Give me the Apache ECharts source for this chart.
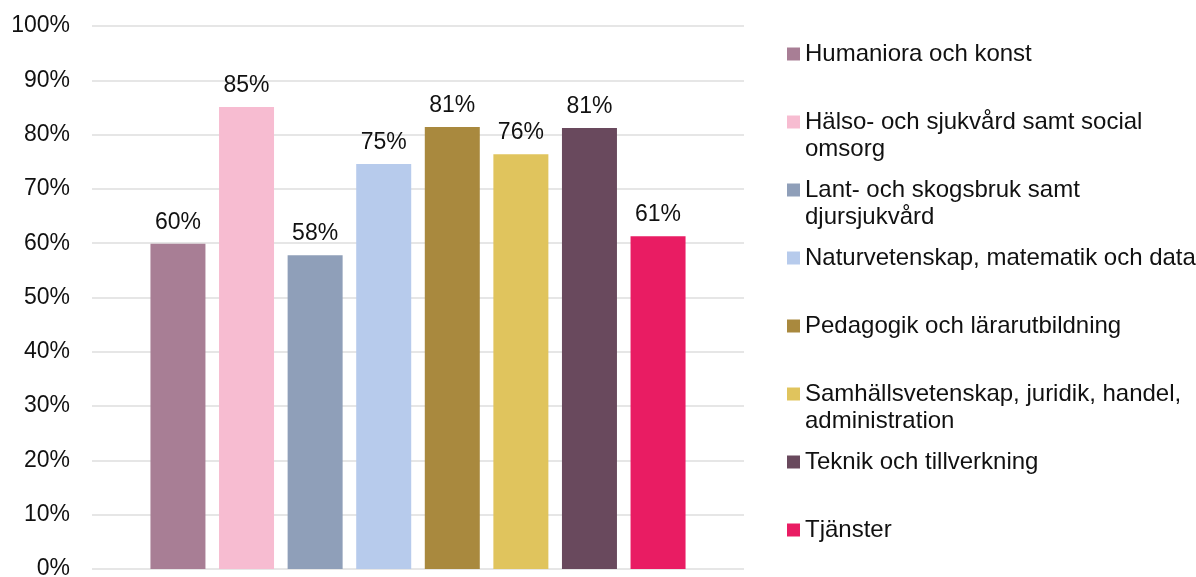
<!DOCTYPE html>
<html>
<head>
<meta charset="utf-8">
<script src="https://cdn.jsdelivr.net/npm/echarts@6/dist/echarts.min.js"></script>
<style>
html, body { margin: 0; padding: 0; background: #fff; }
#chart { width: 1196px; height: 577px; }
</style>
</head>
<body>
<div id="chart"></div>
<script>
// andel per utbildningsområde
var names = [
  'Humaniora och konst',
  'Hälso- och sjukvård samt social\nomsorg',
  'Lant- och skogsbruk samt\ndjursjukvård',
  'Naturvetenskap, matematik och data',
  'Pedagogik och lärarutbildning',
  'Samhällsvetenskap, juridik, handel,\nadministration',
  'Teknik och tillverkning',
  'Tjänster'
];
var values = [59.9, 85.1, 57.8, 74.6, 81.4, 76.4, 81.2, 61.3];
var colors = ['#A87E95', '#F7BCD1', '#8F9FB9', '#B7CBEC', '#A9893E', '#E0C45D', '#69495D', '#E91C63'];
var yTicks = [0, 10, 20, 30, 40, 50, 60, 70, 80, 90, 100];

var myChart = echarts.init(document.getElementById('chart'));

var font = 'Arial, "Liberation Sans", sans-serif';
var series = [];
var legends = [];
for (var i = 0; i < names.length; i++) {
  series.push({
    name: names[i],
    type: 'bar',
    data: [values[i]],
    barWidth: 55,
    barGap: '24.7%',
    itemStyle: { color: colors[i] },
    label: {
      show: true,
      position: 'top',
      distance: 10,
      color: '#111',
      fontSize: 23,
      fontFamily: font,
      formatter: function(p) { return Math.round(p.value) + '%'; }
    }
  });
  var twoLines = names[i].indexOf('\n') >= 0;
  // icon centred on the first text line: add an empty line above two-line names
  legends.push({
    data: [names[i]],
    left: 787,
    top: 54 + i * 68 - 13.5 - (twoLines ? 27 : 0),
    padding: 0,
    itemWidth: 13,
    itemHeight: 13,
    icon: 'rect',
    selectedMode: false,
    formatter: function(name) {
      return name.indexOf('\n') >= 0 ? '\n' + name : name;
    },
    textStyle: {
      fontSize: 24,
      fontFamily: font,
      color: '#111',
      lineHeight: 27
    }
  });
}

myChart.setOption({
  animation: false,
  legend: legends,
  grid: { left: 92, right: 452, top: 26, bottom: 8, outerBoundsMode: 'none' },
  xAxis: {
    type: 'category',
    data: [''],
    axisLine: { show: false },
    axisTick: { show: false },
    axisLabel: { show: false }
  },
  yAxis: {
    type: 'value',
    min: yTicks[0],
    max: yTicks[yTicks.length - 1],
    interval: 10,
    axisLabel: {
      formatter: '{value}%',
      fontSize: 23,
      fontFamily: font,
      color: '#111',
      margin: 22
    },
    splitLine: { lineStyle: { color: '#dedede', width: 1.5 } }
  },
  series: series
});
</script>
</body>
</html>
